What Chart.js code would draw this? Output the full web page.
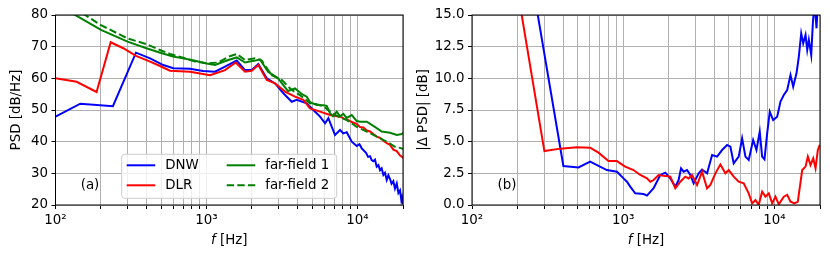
<!DOCTYPE html>
<html>
<head>
<meta charset="utf-8">
<script src="https://cdn.jsdelivr.net/npm/chart.js@4.4.0/dist/chart.umd.min.js"></script>
<style>
  html, body { margin: 0; padding: 0; background: #fff; }
  #wrap { position: relative; width: 830px; height: 259px; }
  .panel { position: absolute; top: 0; width: 415px; height: 259px; }
</style>
</head>
<body>
<div id="wrap">
  <div class="panel" style="left:0"><canvas id="chart-a" width="415" height="259"></canvas></div>
  <div class="panel" style="left:415px"><canvas id="chart-b" width="415" height="259"></canvas></div>
</div>
<script>
// ---- panel (a): PSD [dB/Hz] ----
const freqDNW = [100, 146, 240, 341, 423, 517, 603, 778, 948, 1138, 1326, 1585, 1799, 1992, 2203, 2505, 2843, 3228, 3666, 3958, 4609, 5097, 5646, 6095, 6408, 7096, 7656, 8054, 8482, 9155, 9879, 10300, 10662, 11000, 11382, 11750, 12099, 12400, 12724, 13050, 13398, 13750, 14093, 14450, 14823, 15200, 15610, 16000, 16416, 16800, 17260, 17700, 18183, 18650, 19123, 19500, 19711, 20000];
const psdDNW = [47.9, 52, 51.2, 68.1, 66.3, 64.2, 63.2, 63, 62.3, 62.1, 63.7, 65.6, 62.6, 62.6, 64.5, 60, 58.4, 55.3, 52.6, 53.2, 52.1, 50, 47.9, 45.8, 47.4, 42.1, 43.7, 42.6, 43, 40, 38.6, 39.2, 37.9, 37.2, 36.5, 35.2, 35.4, 34.2, 33.8, 34.3, 32.1, 32.6, 31, 31.6, 29.5, 30.2, 27.9, 29.4, 28.2, 26.7, 27.5, 25.2, 26.8, 23.8, 24.6, 21.5, 22.4, 20.3];

const freqDLR = [100, 138, 187, 232, 281, 341, 423, 492, 573, 778, 1055, 1326, 1561, 1799, 1992, 2203, 2505, 2843, 3311, 3856, 4375, 4846, 5646, 6574, 7656, 8200, 8690, 9155, 9879, 10390, 10925, 11507, 12099, 12724, 13398, 14093, 14823, 15610, 16416, 17260, 18183, 19123, 19621, 20100];
const psdDLR = [60, 58.9, 55.7, 71.4, 69.5, 67.1, 65.3, 63.9, 62.4, 62.1, 61, 62.6, 65, 62.1, 62.4, 64.2, 59.5, 58.4, 55.8, 54.2, 53.2, 50.5, 49.5, 48.4, 47.9, 47.2, 46.8, 46.2, 45.6, 44.6, 44.5, 43.5, 43.2, 42.4, 41.6, 41.2, 40.3, 39.5, 39, 37.5, 37, 35.6, 35.3, 34.8];

const freqFF1 = [100, 200, 300, 400, 500, 600, 700, 800, 1000, 1138, 1394, 1585, 1799, 2095, 2261, 2555, 2975, 3465, 3856, 4291, 4609, 4846, 5368, 5936, 6252, 6574, 6881, 7282, 7656, 8054, 8482, 9155, 9879, 10390, 11507, 12724, 14464, 16416, 18183, 19621, 20100];
const psdFF1 = [83.6, 75.3, 71.6, 69.5, 68, 66.9, 66.3, 65.8, 64.7, 64.2, 65.8, 66.6, 65, 65.6, 66, 62.1, 60, 56, 56.8, 55, 54.2, 52.5, 51.6, 51.5, 51.3, 49, 48, 49.5, 48, 48.8, 47.5, 48.4, 46.5, 46.3, 46.3, 45, 43.2, 42.8, 42.1, 42.4, 42.8];

const freqFF2 = [100, 200, 300, 400, 500, 573, 700, 839, 1023, 1192, 1394, 1585, 1799, 2095, 2321, 2703, 3148, 3666, 4160, 4846, 5368, 5936, 6574, 7460, 8482, 9879, 11507, 13398, 15610, 17714, 19621, 20100];
const psdFF2 = [86, 76.8, 72.6, 70.8, 68.8, 67.7, 66.5, 65.3, 64.7, 65, 66.8, 67.7, 65.8, 66.3, 65.6, 61, 59.5, 56.3, 54.7, 52.1, 51.8, 51.2, 49.5, 47.9, 46.8, 44.7, 43.2, 41.6, 40, 38.4, 37.9, 37.6];

// ---- panel (b): |delta PSD| [dB] ----
const freqDiffDNW = [242, 402, 506, 604, 780, 908, 955, 1005, 1058, 1112, 1201, 1363, 1435, 1588, 1758, 1897, 2048, 2210, 2324, 2411, 2508, 2642, 2778, 2921, 3153, 3320, 3584, 3868, 4174, 4504, 4863, 5112, 5376, 5801, 6110, 6427, 6756, 7228, 7600, 7991, 8288, 8587, 8946, 9309, 9804, 10421, 10958, 11524, 12137, 12764, 13297, 13985, 14484, 15025, 15488, 16046, 16467, 16874, 17500, 17932, 18402, 18970, 19352, 20000];
const diffDNW = [18.6, 3.08, 2.97, 3.42, 2.76, 2.63, 2.37, 2.1, 1.84, 1.45, 0.92, 0.87, 0.74, 1.32, 2.37, 2.55, 2.1, 1.45, 1.97, 2.89, 2.63, 2.76, 2.37, 1.71, 2.5, 2.8, 2.5, 3.95, 3.82, 4.34, 4.74, 4.6, 3.29, 3.82, 5.27, 3.82, 3.55, 5.13, 4.34, 5.79, 3.82, 3.6, 5.66, 7.37, 6.71, 6.97, 8.16, 8.68, 9.08, 10.26, 9.34, 10.4, 11.7, 13.55, 12.76, 13.42, 12.24, 13.03, 11.84, 14.34, 16, 13.95, 16, 16];

const freqDiffDLR = [153, 301, 383, 493, 604, 686, 799, 908, 955, 1030, 1170, 1296, 1435, 1510, 1588, 1713, 1849, 2048, 2210, 2385, 2574, 2707, 2851, 3077, 3320, 3584, 3770, 4068, 4389, 4737, 4982, 5376, 5801, 6260, 6756, 7117, 7484, 7870, 8288, 8717, 9170, 9656, 10154, 10679, 11524, 12137, 12764, 13563, 14265, 15258, 16046, 16617, 17311, 18040, 18684, 19352, 19953];
const diffDLR = [25.3, 4.26, 4.45, 4.55, 4.52, 4.13, 3.47, 3.47, 3.29, 3.03, 2.76, 2.37, 2.1, 1.84, 1.97, 2.37, 2.3, 2.24, 1.32, 1.84, 2.24, 2.1, 2.37, 1.58, 2.63, 1.32, 1.58, 2.5, 3.2, 2.5, 2.76, 2.24, 1.84, 1.71, 0.92, 0.13, 0.39, 0.02, 1.05, 0.66, 0.92, 0.13, 0.66, 0.05, 0.66, 0.8, 0.26, 0.13, 0.26, 2.76, 3.03, 3.82, 3.16, 3.68, 2.89, 4.34, 4.74];

// axis ticks
const xGridTicks = [100, 200, 300, 400, 500, 600, 700, 800, 900, 1000, 2000, 3000, 4000, 5000, 6000, 7000, 8000, 9000, 10000, 20000];
const xMajorTicks = [100, 1000, 10000];
const xMajorLabels = ["10²", "10³", "10⁴"];

const FONT_FAMILY = "DejaVu Sans";
const FONT_SIZE = 13.4;
const FONT = `${FONT_SIZE}px "${FONT_FAMILY}"`;

function series(label, fs, vs, color, order, dash) {
  return {
    label,
    data: fs.map((f, i) => ({ x: f, y: vs[i] })),
    borderColor: color,
    backgroundColor: color,
    borderWidth: 2,
    borderDash: dash || [],
    pointRadius: 0,
    fill: false,
    tension: 0,
    order,
  };
}

// black box round the plot area, like the spines
const frame = {
  id: "frame",
  afterDraw(chart) {
    const { ctx, chartArea: a } = chart;
    ctx.save();
    ctx.strokeStyle = "#000";
    ctx.lineWidth = 1;
    ctx.strokeRect(a.left, a.top, a.right - a.left, a.bottom - a.top);
    ctx.restore();
  },
};

// axis titles and panel tag
const notes = {
  id: "notes",
  afterDraw(chart, args, opts) {
    const { ctx, chartArea: a } = chart;
    ctx.save();
    ctx.fillStyle = "#000";
    ctx.font = FONT;
    ctx.textAlign = "center";
    ctx.textBaseline = "middle";

    ctx.save();
    ctx.translate(opts.yTitleX, (a.top + a.bottom) / 2);
    ctx.rotate(-Math.PI / 2);
    ctx.fillText(opts.yTitle, 0, 0);
    ctx.restore();

    const cx = (a.left + a.right) / 2;
    const cy = 241;
    ctx.font = "italic " + FONT;
    const w1 = ctx.measureText("f").width;
    ctx.font = FONT;
    const w2 = ctx.measureText(" [Hz]").width;
    ctx.textAlign = "left";
    const x0 = cx - (w1 + w2) / 2;
    ctx.font = "italic " + FONT;
    ctx.fillText("f", x0, cy);
    ctx.font = FONT;
    ctx.fillText(" [Hz]", x0 + w1, cy);

    ctx.textAlign = "center";
    ctx.fillText(opts.tag, opts.tagX, opts.tagY);
    ctx.restore();
  },
};

// legend box inside panel (a), two columns
const boxLegend = {
  id: "boxLegend",
  afterDatasetsDraw(chart, args, opts) {
    if (!opts.show) return;
    const ctx = chart.ctx;
    ctx.save();
    ctx.beginPath();
    if (ctx.roundRect) ctx.roundRect(opts.x, opts.y, opts.w, opts.h, 3);
    else ctx.rect(opts.x, opts.y, opts.w, opts.h);
    ctx.fillStyle = "rgba(255,255,255,0.8)";
    ctx.fill();
    ctx.strokeStyle = "#cccccc";
    ctx.lineWidth = 1;
    ctx.stroke();

    ctx.font = FONT;
    ctx.textBaseline = "middle";
    ctx.textAlign = "left";
    chart.data.datasets.forEach((ds, i) => {
      const col = Math.floor(i / 2);
      const row = i % 2;
      const lx = opts.x + 5 + col * 100;
      const ly = opts.y + 11 + row * 20;
      ctx.beginPath();
      ctx.setLineDash(ds.borderDash);
      ctx.strokeStyle = ds.borderColor;
      ctx.lineWidth = 2;
      ctx.moveTo(lx, ly);
      ctx.lineTo(lx + 28.5, ly);
      ctx.stroke();
      ctx.setLineDash([]);
      ctx.fillStyle = "#000";
      ctx.fillText(ds.label, lx + 38.5, ly + 0.5);
    });
    ctx.restore();
  },
};

function makeOptions(cfg) {
  const font = { family: FONT_FAMILY, size: FONT_SIZE };
  return {
    responsive: false,
    animation: false,
    events: [],
    layout: { padding: { top: 15, right: cfg.padRight, left: 0, bottom: 0 } },
    plugins: {
      legend: { display: false },
      tooltip: { enabled: false },
      notes: cfg.notes,
      boxLegend: cfg.legend || { show: false },
    },
    scales: {
      x: {
        type: "logarithmic",
        min: 100,
        max: 20000,
        afterBuildTicks: (s) => {
          s.ticks = xGridTicks.map((v) => ({ value: v }));
        },
        afterFit: (s) => {
          s.height = 54;
        },
        ticks: {
          autoSkip: false,
          maxRotation: 0,
          padding: 3,
          color: "#000",
          font,
          callback: (v) => {
            const k = xMajorTicks.indexOf(v);
            return k >= 0 ? xMajorLabels[k] : "";
          },
        },
        grid: { color: "#b0b0b0", lineWidth: 1, tickLength: 4, tickColor: "#000" },
        border: { display: false },
      },
      y: {
        min: cfg.yMin,
        max: cfg.yMax,
        afterFit: (s) => {
          s.width = cfg.yWidth;
        },
        ticks: {
          stepSize: cfg.yStep,
          padding: 3.5,
          color: "#000",
          font,
          callback: cfg.yFormat,
        },
        grid: { color: "#b0b0b0", lineWidth: 1, tickLength: 4, tickColor: "#000" },
        border: { display: false },
      },
    },
  };
}

function main() {
  new Chart(document.getElementById("chart-a"), {
    type: "line",
    data: {
      datasets: [
        series("DNW", freqDNW, psdDNW, "#0000ff", 4),
        series("DLR", freqDLR, psdDLR, "#ff0000", 3),
        series("far-field 1", freqFF1, psdFF1, "#008000", 2),
        series("far-field 2", freqFF2, psdFF2, "#008000", 1, [7.4, 3.2]),
      ],
    },
    options: makeOptions({
      padRight: 12,
      yWidth: 55.5,
      yMin: 20,
      yMax: 80,
      yStep: 10,
      yFormat: (v) => String(v),
      notes: { yTitle: "PSD [dB/Hz]", yTitleX: 17, tag: "(a)", tagX: 90, tagY: 186 },
      legend: { show: true, x: 121.7, y: 154.3, w: 215, h: 44 },
    }),
    plugins: [frame, notes, boxLegend],
  });

  new Chart(document.getElementById("chart-b"), {
    type: "line",
    data: {
      datasets: [
        series("DNW", freqDiffDNW, diffDNW, "#0000ff", 2),
        series("DLR", freqDiffDLR, diffDLR, "#ff0000", 1),
      ],
    },
    options: makeOptions({
      padRight: 10,
      yWidth: 57,
      yMin: 0,
      yMax: 15,
      yStep: 2.5,
      yFormat: (v) => v.toFixed(1),
      notes: { yTitle: "|Δ PSD| [dB]", yTitleX: 9, tag: "(b)", tagX: 92, tagY: 186 },
    }),
    plugins: [frame, notes, boxLegend],
  });
}

document.addEventListener("DOMContentLoaded", () => main());
</script>
</body>
</html>
